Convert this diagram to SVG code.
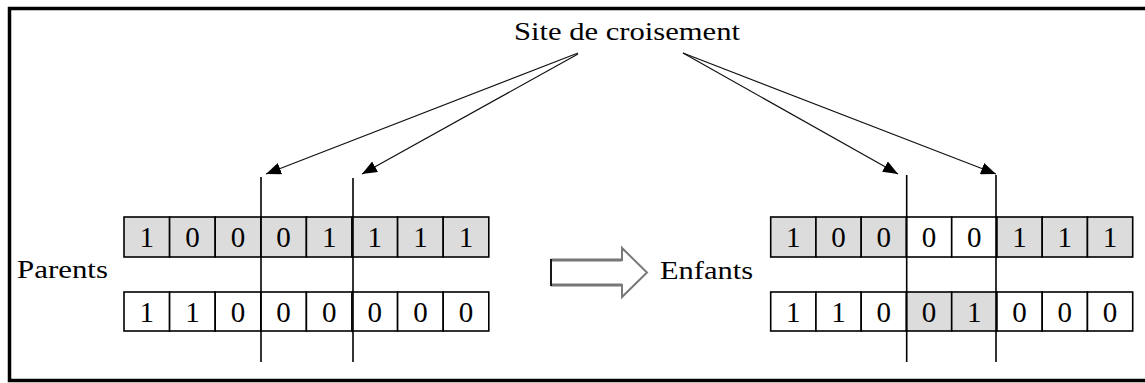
<svg xmlns="http://www.w3.org/2000/svg" width="1145" height="383" viewBox="0 0 1145 383">
<style>
text{font-family:'Liberation Serif','Times New Roman','DejaVu Serif',serif;fill:#000}
.lbl{font-size:25px}
.d{font-size:29px;text-anchor:middle}
.g{fill:#dcdcdc;stroke:#000;stroke-width:1.6}
.w{fill:#fff;stroke:#000;stroke-width:1.6}
.cut{stroke:#000;stroke-width:1.6}
.ar{stroke:#111;stroke-width:1.2;fill:none;marker-end:url(#ah)}
</style>
<defs>
<marker id="ah" markerUnits="userSpaceOnUse" markerWidth="16" markerHeight="12" refX="15" refY="6" orient="auto">
<path d="M0,0 L15,6 L0,12 z" fill="#000"/>
</marker>
</defs>
<rect x="0" y="0" width="1145" height="383" fill="#fff"/>
<rect x="9.5" y="8.5" width="1150" height="372" fill="none" stroke="#000" stroke-width="3.5"/>

<g id="title"><text class="lbl" font-family="Liberation Serif, serif" x="514" y="40" textLength="226" lengthAdjust="spacingAndGlyphs">Site de croisement</text></g>

<g id="connectors">
<line class="ar" x1="578" y1="53" x2="266" y2="174"/>
<line class="ar" x1="578" y1="54" x2="362" y2="174"/>
<line class="ar" x1="683" y1="53" x2="898" y2="174"/>
<line class="ar" x1="683" y1="53" x2="996" y2="174"/>
</g>

<g id="parents-label"><text class="lbl" font-family="Liberation Serif, serif" x="17" y="278" textLength="91" lengthAdjust="spacingAndGlyphs">Parents</text></g>

<g id="parent1" font-family="Liberation Serif, serif">
<rect class="g" x="124" y="217" width="45.6" height="40"/>
<rect class="g" x="169.6" y="217" width="45.6" height="40"/>
<rect class="g" x="215.2" y="217" width="45.6" height="40"/>
<rect class="g" x="260.8" y="217" width="45.6" height="40"/>
<rect class="g" x="306.4" y="217" width="45.6" height="40"/>
<rect class="g" x="352" y="217" width="45.6" height="40"/>
<rect class="g" x="397.6" y="217" width="45.6" height="40"/>
<rect class="g" x="443.2" y="217" width="45.6" height="40"/>
<text class="d" x="146.8" y="247">1</text>
<text class="d" x="192.4" y="247">0</text>
<text class="d" x="238" y="247">0</text>
<text class="d" x="283.6" y="247">0</text>
<text class="d" x="329.2" y="247">1</text>
<text class="d" x="374.8" y="247">1</text>
<text class="d" x="420.4" y="247">1</text>
<text class="d" x="466" y="247">1</text>
</g>

<g id="parent2">
<rect class="w" x="124" y="292" width="45.6" height="39"/>
<rect class="w" x="169.6" y="292" width="45.6" height="39"/>
<rect class="w" x="215.2" y="292" width="45.6" height="39"/>
<rect class="w" x="260.8" y="292" width="45.6" height="39"/>
<rect class="w" x="306.4" y="292" width="45.6" height="39"/>
<rect class="w" x="352" y="292" width="45.6" height="39"/>
<rect class="w" x="397.6" y="292" width="45.6" height="39"/>
<rect class="w" x="443.2" y="292" width="45.6" height="39"/>
<text class="d" x="146.8" y="321.5">1</text>
<text class="d" x="192.4" y="321.5">1</text>
<text class="d" x="238" y="321.5">0</text>
<text class="d" x="283.6" y="321.5">0</text>
<text class="d" x="329.2" y="321.5">0</text>
<text class="d" x="374.8" y="321.5">0</text>
<text class="d" x="420.4" y="321.5">0</text>
<text class="d" x="466" y="321.5">0</text>
</g>

<g id="parent-cuts">
<line class="cut" x1="261" y1="177" x2="261" y2="362"/>
<line class="cut" x1="353" y1="178" x2="353" y2="362"/>
</g>

<g id="transform-arrow">
<polygon points="551,260 622,260 622,248 647,272.5 622,297 622,285 551,285" fill="#fff" stroke="#7a7a7a" stroke-width="2"/>
<line x1="551" y1="260" x2="622" y2="260" stroke="#777" stroke-width="3"/>
<line x1="551" y1="285" x2="622" y2="285" stroke="#777" stroke-width="3"/>
<line x1="551" y1="259" x2="551" y2="286" stroke="#000" stroke-width="1.6"/>
</g>

<g id="enfants-label"><text class="lbl" x="660" y="279" textLength="93" lengthAdjust="spacingAndGlyphs">Enfants</text></g>

<g id="child1">
<rect class="g" x="770.7" y="217" width="45.25" height="40"/>
<rect class="g" x="815.95" y="217" width="45.25" height="40"/>
<rect class="g" x="861.2" y="217" width="45.25" height="40"/>
<rect class="w" x="906.45" y="217" width="45.25" height="40"/>
<rect class="w" x="951.7" y="217" width="45.25" height="40"/>
<rect class="g" x="996.95" y="217" width="45.25" height="40"/>
<rect class="g" x="1042.2" y="217" width="45.25" height="40"/>
<rect class="g" x="1087.45" y="217" width="45.25" height="40"/>
<text class="d" x="793.3" y="247">1</text>
<text class="d" x="838.6" y="247">0</text>
<text class="d" x="883.8" y="247">0</text>
<text class="d" x="929.1" y="247">0</text>
<text class="d" x="974.3" y="247">0</text>
<text class="d" x="1019.6" y="247">1</text>
<text class="d" x="1064.8" y="247">1</text>
<text class="d" x="1110.1" y="247">1</text>
</g>

<g id="child2">
<rect class="w" x="770.7" y="292" width="45.25" height="39"/>
<rect class="w" x="815.95" y="292" width="45.25" height="39"/>
<rect class="w" x="861.2" y="292" width="45.25" height="39"/>
<rect class="g" x="906.45" y="292" width="45.25" height="39"/>
<rect class="g" x="951.7" y="292" width="45.25" height="39"/>
<rect class="w" x="996.95" y="292" width="45.25" height="39"/>
<rect class="w" x="1042.2" y="292" width="45.25" height="39"/>
<rect class="w" x="1087.45" y="292" width="45.25" height="39"/>
<text class="d" x="793.3" y="321.5">1</text>
<text class="d" x="838.6" y="321.5">1</text>
<text class="d" x="883.8" y="321.5">0</text>
<text class="d" x="929.1" y="321.5">0</text>
<text class="d" x="974.3" y="321.5">1</text>
<text class="d" x="1019.6" y="321.5">0</text>
<text class="d" x="1064.8" y="321.5">0</text>
<text class="d" x="1110.1" y="321.5">0</text>
</g>

<g id="child-cuts">
<line class="cut" x1="906.7" y1="175" x2="906.7" y2="362"/>
<line class="cut" x1="996" y1="175" x2="996" y2="362"/>
</g>
</svg>
